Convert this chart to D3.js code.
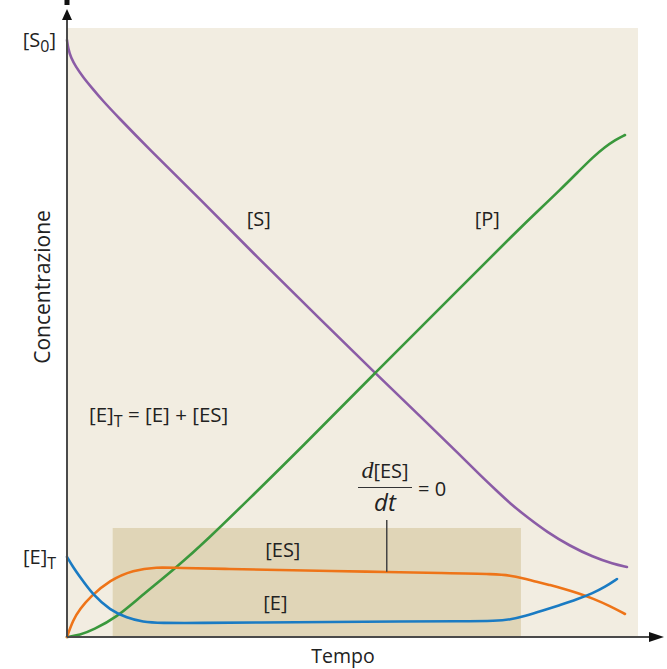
<!DOCTYPE html>
<html><head><meta charset="utf-8">
<script src="https://cdn.jsdelivr.net/npm/d3@7"></script>
<style>body{margin:0;background:#fff}svg{display:block}text{font-family:"Open Sans","Noto Sans",sans-serif;fill:#222}</style>
</head><body><svg id="c" width="667" height="669"></svg>
<script>
// time (0-100) vs concentration (0-100)
const sData = [[0,98.03],[0.18,96.72],[0.70,95.07],[1.58,93.60],[2.80,91.95],[4.38,90.15],[6.30,88.01],[8.93,85.39],[14.19,80.30],[23.29,71.92],[33.80,61.90],[44.31,52.22],[53.94,43.35],[61.82,36.29],[68.83,29.89],[72.33,26.60],[75.31,23.97],[77.93,21.67],[80.56,19.70],[84.06,17.24],[88.09,14.94],[92.12,13.14],[95.62,11.99],[98.07,11.49]];
const pData = [[0,0],[2.28,0.33],[4.55,1.15],[8.76,3.28],[12.78,6.57],[19.26,11.49],[24.52,15.93],[32.05,22.82],[40.81,30.87],[53.94,43.35],[67.08,55.67],[79.33,67.16],[82.84,70.28],[86.34,73.40],[89.49,76.35],[92.12,78.82],[94.22,80.46],[95.97,81.61],[97.72,82.43]];
const esData = [[0,0],[1.05,2.79],[2.28,4.60],[4.03,6.57],[7.53,9.36],[11.56,11.00],[15.76,11.49],[19.26,11.33],[28.55,11.17],[37.30,11.00],[46.06,10.84],[56.04,10.67],[65.32,10.51],[75.31,10.34],[77.58,10.10],[79.68,9.69],[82.31,9.03],[84.59,8.54],[86.87,7.96],[89.49,7.22],[92.12,6.32],[95.10,5.09],[97.72,3.78]];
const eData = [[0,13.14],[1.05,11.49],[2.28,9.85],[4.55,6.90],[7.53,4.43],[10.51,3.12],[13.31,2.46],[16.29,2.30],[23.29,2.30],[33.80,2.38],[46.06,2.46],[58.32,2.55],[68.83,2.58],[75.31,2.63],[77.58,2.87],[80.21,3.45],[83.36,4.35],[86.34,5.25],[89.32,6.16],[92.12,7.22],[94.22,8.21],[96.32,9.52]];
const yTickVals = [98.0, 13.1];
const yTickLabels = [["[S","0","]"],["[E]","T",""]];
const steadyRange = [8.0, 79.5]; // time window of steady state
const steadyTop = 17.9;
const curveLabels = [{t:33.6,c:67.5,txt:"[S]"},{t:73.6,c:67.5,txt:"[P]"},{t:37.8,c:13.2,txt:"[ES]"},{t:36.5,c:4.4,txt:"[E]"}];

const svg = d3.select("#c");
const x = d3.scaleLinear().domain([0,100]).range([67,638]);
const y = d3.scaleLinear().domain([0,100]).range([637,28]);

// backgrounds
svg.append("rect").attr("x",x(0)).attr("y",y(100)).attr("width",x(100)-x(0)).attr("height",y(0)-y(100)).attr("fill","#f2ede1");
svg.append("rect").attr("x",x(steadyRange[0])).attr("y",y(steadyTop)).attr("width",x(steadyRange[1])-x(steadyRange[0])).attr("height",y(0)-y(steadyTop)).attr("fill","#e0d5b7");

const line = d3.line().x(d=>x(d[0])).y(d=>y(d[1])).curve(d3.curveBasis);
const series = [[sData,"#8b5ca6"],[pData,"#3a983c"],[esData,"#ee7418"],[eData,"#1a7bc3"]];
series.forEach(([d,c])=>svg.append("path").attr("d",line(d)).attr("fill","none").attr("stroke",c).attr("stroke-width",2.6).attr("stroke-linecap","round"));

// axes
const ac="#4a4a4a";
svg.append("line").attr("x1",x(0)).attr("y1",y(0)).attr("x2",x(0)).attr("y2",16).attr("stroke",ac).attr("stroke-width",2);
svg.append("path").attr("d",`M${x(0)},9 L${x(0)-5},20 L${x(0)+5},20 Z`).attr("fill","#111");
svg.append("rect").attr("x",x(0)-2.5).attr("y",0).attr("width",5).attr("height",5).attr("fill","#111");
svg.append("line").attr("x1",x(0)).attr("y1",y(0)).attr("x2",655).attr("y2",y(0)).attr("stroke",ac).attr("stroke-width",2);
svg.append("path").attr("d",`M664,${y(0)} L649,${y(0)-5} L649,${y(0)+5} Z`).attr("fill","#111");

const FS = 20, SUB = 16;
// y tick labels
yTickVals.forEach((v,i)=>{
  const t = svg.append("text").attr("x",56).attr("y",y(v)+7).attr("text-anchor","end").attr("font-size",FS);
  const L=yTickLabels[i];
  t.append("tspan").text(L[0]);
  t.append("tspan").attr("font-size",SUB).attr("dy",5).text(L[1]);
  if(L[2]) t.append("tspan").attr("dy",-5).text(L[2]);
});

svg.append("text").attr("transform",`translate(50,${287}) rotate(-90)`).attr("text-anchor","middle").attr("font-size",21).text("Concentrazione");
svg.append("text").attr("x",343).attr("y",663).attr("text-anchor","middle").attr("font-size",19.5).text("Tempo");

curveLabels.forEach(l=>svg.append("text").attr("x",x(l.t)).attr("y",y(l.c)).attr("text-anchor","middle").attr("font-size",FS).text(l.txt));

// [E]T = [E] + [ES]
const eq = svg.append("text").attr("x",89).attr("y",422).attr("font-size",20.5);
eq.append("tspan").text("[E]");
eq.append("tspan").attr("font-size",SUB).attr("dy",5).text("T");
eq.append("tspan").attr("dy",-5).text(" = [E] + [ES]");

// d[ES]/dt = 0
const fx = 385;
const num = svg.append("text").attr("x",fx).attr("y",478).attr("text-anchor","middle").attr("font-size",FS);
num.append("tspan").attr("font-family","Liberation Serif, serif").attr("font-style","italic").attr("font-size",24).text("d");
num.append("tspan").text("[ES]");
svg.append("line").attr("x1",358).attr("x2",412).attr("y1",487.5).attr("y2",487.5).attr("stroke","#333").attr("stroke-width",1.2);
svg.append("text").attr("x",fx).attr("y",511).attr("text-anchor","middle").attr("font-family","Liberation Serif, serif").attr("font-style","italic").attr("font-size",24).text("dt");
svg.append("text").attr("x",418).attr("y",496).attr("font-size",FS).text("= 0");
svg.append("line").attr("x1",x(56.0)).attr("x2",x(56.0)).attr("y1",520).attr("y2",y(10.7)).attr("stroke","#444").attr("stroke-width",1.5);
</script></body></html>
